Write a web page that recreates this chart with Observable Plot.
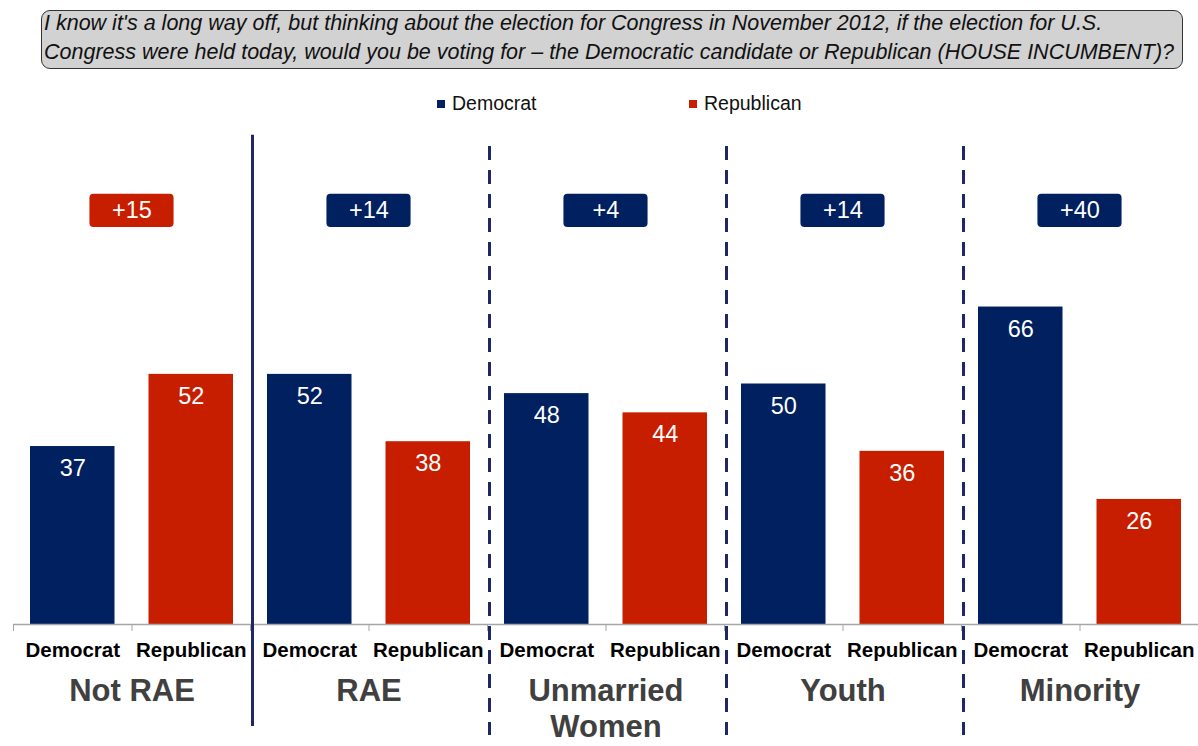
<!DOCTYPE html>
<html>
<head>
<meta charset="utf-8">
<script src="https://cdn.jsdelivr.net/npm/d3@7"></script>
<script src="https://cdn.jsdelivr.net/npm/@observablehq/plot@0.6"></script>
<style>
  body { margin: 0; background: #fff; font-family: "Liberation Sans", Arial, sans-serif; }
  #wrap { position: relative; width: 1198px; height: 746px; overflow: hidden; }
  #question {
    position: absolute; left: 41px; top: 10px; width: 1138px; height: 57px;
    background: #d2d2d2; border: 1.5px solid #333; border-radius: 9px;
    font-style: italic; font-size: 21.5px; line-height: 29px; color: #111;
    padding: 0 0 0 2px; box-sizing: content-box; overflow: hidden;
  }
  #question span { position: relative; top: -2px; display: block; }
  .key { position: absolute; top: 92px; font-size: 19.5px; color: #111; display: flex; align-items: center; }
  .key i { display: inline-block; width: 8px; height: 8px; margin-right: 7px; }
  #chart { position: absolute; left: 0; top: 125px; }
</style>
</head>
<body>
<div id="wrap">
  <div id="question"><span>I know it's a long way off, but thinking about the election for Congress in November 2012, if the election for U.S.<br>Congress were held today, would you be voting for – the Democratic candidate or Republican (HOUSE INCUMBENT)?</span></div>
  <div class="key" style="left:437px"><i style="background:#002060"></i>Democrat</div>
  <div class="key" style="left:689px"><i style="background:#c71e00"></i>Republican</div>
  <div id="chart"></div>
</div>
<script>
// Vote intention by subgroup
const groups = ["Not RAE", "RAE", "Unmarried\nWomen", "Youth", "Minority"];
const parties = ["Democrat", "Republican"];
const democrat = [37, 52, 48, 50, 66];
const republican = [52, 38, 44, 36, 26];

const colors = { Democrat: "#002060", Republican: "#c71e00" };

// one row per bar; slot is the bar's position along the axis (0..9)
const rows = [];
groups.forEach((g, i) => {
  [democrat[i], republican[i]].forEach((v, j) => {
    rows.push({ group: g, party: parties[j], value: v, slot: 2 * i + j });
  });
});

// lead of the winning party within each group
const leads = groups.map((g, i) => {
  const diff = democrat[i] - republican[i];
  return {
    group: g,
    center: 2 * i + 1,
    label: "+" + Math.abs(diff),
    party: diff >= 0 ? "Democrat" : "Republican"
  };
});

const badgeY = 86, badgeHalf = 3.45, badgeHalfW = 0.355;
const navyLine = "#1f2766";

const chart = Plot.plot({
  width: 1198,
  height: 621,
  marginLeft: 13,
  marginRight: 0,
  marginTop: 18,
  marginBottom: 122,
  x: { domain: [0, 10], axis: null },
  y: { domain: [0, 100], axis: null },
  style: { fontFamily: "'Liberation Sans', Arial, sans-serif", overflow: "visible" },
  marks: [
    Plot.rectY(rows, {
      x1: d => d.slot, x2: d => d.slot + 1, y: "value",
      fill: d => colors[d.party], insetLeft: 17, insetRight: 17
    }),
    Plot.text(rows, {
      x: d => d.slot + 0.5, y: "value", text: d => String(d.value),
      dy: 22, fill: "white", fontSize: 23.5
    }),
    Plot.ruleY([0], { stroke: "#a6a6a6", strokeWidth: 1.5 }),
    Plot.axisX({
      ticks: d3.range(0, 11), tickSize: 7, tickFormat: () => "",
      stroke: "#a6a6a6", label: null
    }),
    Plot.text(rows, {
      x: d => d.slot + 0.5, y: 0, text: "party", dy: 26,
      fontSize: 20.5, fontWeight: "bold", fill: "#000"
    }),
    Plot.text(leads, {
      x: "center", y: 0, text: "group", dy: 51, lineAnchor: "top",
      lineHeight: 1.16, fontSize: 31, fontWeight: "bold", fill: "#404040"
    }),
    // group separators: solid after the first group, dashed between the rest
    Plot.ruleX([2], { y1: 101.7, y2: -21.2, dx: 2, stroke: navyLine, strokeWidth: 3 }),
    Plot.ruleX([4, 6, 8], {
      y1: 99.4, y2: -23.1, dx: 2, stroke: navyLine, strokeWidth: 3,
      strokeDasharray: "14,10"
    }),
    Plot.rect(leads, {
      x1: d => d.center - badgeHalfW, x2: d => d.center + badgeHalfW,
      y1: badgeY - badgeHalf, y2: badgeY + badgeHalf,
      fill: d => colors[d.party], rx: 4
    }),
    Plot.text(leads, {
      x: "center", y: badgeY, text: "label", fill: "white", fontSize: 23.5
    })
  ]
});
document.getElementById("chart").appendChild(chart);
</script>
</body>
</html>
